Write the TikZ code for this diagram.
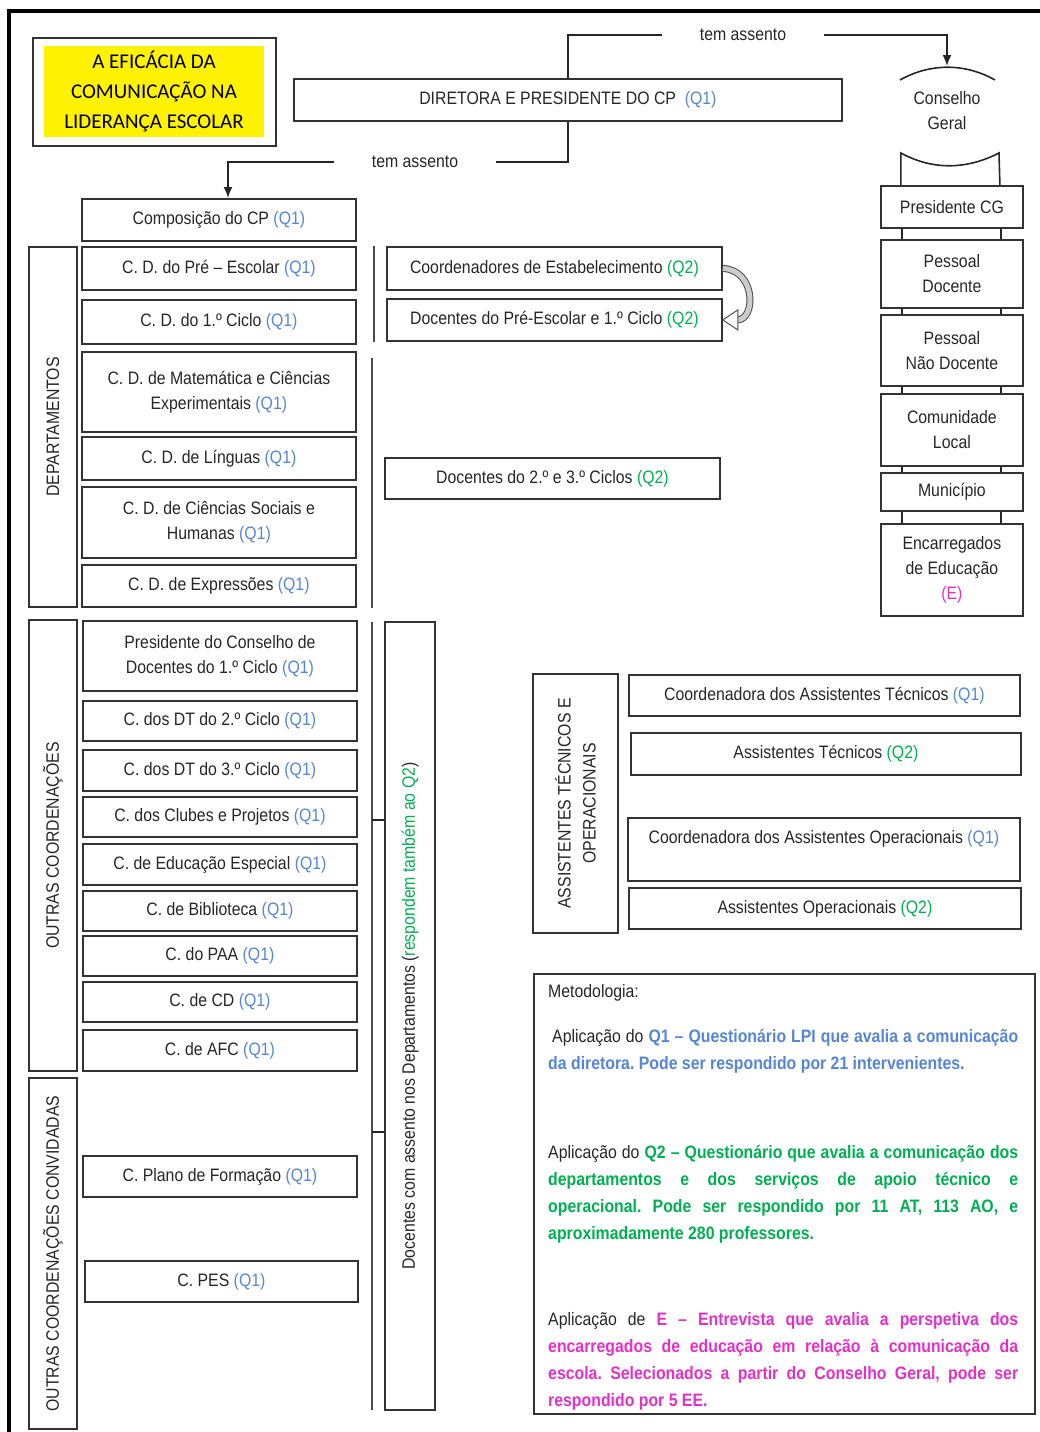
\documentclass[tikz,border=0pt]{standalone}
\usepackage{fontspec}
\setmainfont{Liberation Sans}[FakeStretch=0.88]
\newfontfamily\titlefont{Carlito}
\usepackage{xcolor}
\usetikzlibrary{arrows.meta}
\usetikzlibrary{positioning}
\definecolor{qblue}{HTML}{5585D5}
\definecolor{qgreen}{HTML}{00B050}
\definecolor{qpink}{HTML}{E530C8}
\newcommand*\qum{\textcolor{qblue}{(Q1)}}
\newcommand*\qdois{\textcolor{qgreen}{(Q2)}}
\tikzset{
    box/.style={draw=black!80, line width=1.8pt, anchor=north west, align=center, inner sep=2pt},
    lbox/.style={box, minimum width=274pt},
    rbox/.style={box, minimum width=142pt},
    abox/.style={box, minimum width=391pt},
    sidebox/.style={draw=black!80, line width=1.8pt, rotate=90, align=center, inner sep=2pt},
    vline/.style={draw=black!70, line width=2pt},
    link/.style={draw=black!85, line width=1.6pt},
    line/.style={link, -{Latex[length=11pt,width=9pt]}},
    metxt/.style={anchor=north west, inner sep=0pt, text width=470pt, align=justify,
        font=\fontsize{18}{27}\selectfont},
}

\begin{document}
\frenchspacing
\begin{tikzpicture}[x=1pt, y=-1pt,
    every node/.style={font=\fontsize{18}{25}\selectfont, text=black!85}]
	\useasboundingbox (0,0) rectangle (1040,1432);
	\draw[line width=4pt] (8,11) -- (1040,11);
	\draw[line width=3.5pt] (9,9) -- (9,1432);
	% titulo
	\node[draw=black!80, line width=1.8pt, minimum width=243pt, minimum height=108pt, anchor=north west] (tframe) at (32,37) {};
	\node[fill=yellow, minimum width=220pt, minimum height=91pt, align=center, text=black,
	    font=\titlefont\fontsize{21}{30}\selectfont] (title) at (154,91.5) {A EFICÁCIA DA\\COMUNICAÇÃO NA\\LIDERANÇA ESCOLAR};
	% direcao
	\node[box, minimum width=548pt, minimum height=42pt] (dir) at (293,78) {DIRETORA E PRESIDENTE DO CP\ \ \qum};
	\node[inner xsep=38pt] (ta1) at (743,35) {tem assento};
	\node[inner xsep=38pt] (ta2) at (415,162) {tem assento};
	\coordinate (cgin) at (947,66);
	\coordinate (cpin) at (228,198);
	\draw[link] (dir.north) |- (ta1.west);
	\path[line] (ta1.east) -| (cgin);
	\draw[link] (dir.south) |- (ta2.east);
	\path[line] (ta2.west) -| (cpin);
	% conselho geral
	\node[align=center] (cg) at (947,111) {Conselho\\Geral};
	\draw[link] (900,80) .. controls (930,63) and (965,63) .. (995,80);
	\node[rbox, minimum height=42pt] (pcg) at (880,185) {Presidente CG};
	\draw[link] ([xshift=-51pt]pcg.north) -- ++(0,-32) .. controls (932,170) and (966,170) .. (999,153) -- ([xshift=48pt]pcg.north);
	\node[rbox, minimum height=68pt] (pdoc) at (880,239) {Pessoal\\Docente};
	\node[rbox, minimum height=71pt] (pndoc) at (880,314) {Pessoal\\Não Docente};
	\node[rbox, minimum height=72pt] (cloc) at (880,393) {Comunidade\\Local};
	\node[rbox, minimum height=38pt] (mun) at (880,472) {Município};
	\node[rbox, minimum height=92pt] (enc) at (880,523) {Encarregados\\de Educação\\\textcolor{qpink}{(E)}};
	\foreach \a/\b in {pcg/pdoc,pdoc/pndoc,pndoc/cloc,cloc/mun,mun/enc}{
		\draw[link] ([xshift=-50pt]\a.south) -- ([xshift=-50pt]\b.north);
		\draw[link] ([xshift=49pt]\a.south) -- ([xshift=49pt]\b.north);
	}
	% departamentos
	\node[lbox, minimum height=42pt] (cp) at (81,198) {Composição do CP \qum};
	\node[lbox, minimum height=43pt] (dpre) at (81,246) {C. D. do Pré – Escolar \qum};
	\node[lbox, minimum height=44pt] (dciclo) at (81,299) {C. D. do 1.º Ciclo \qum};
	\node[lbox, minimum height=80pt] (dmat) at (81,351) {C. D. de Matemática e Ciências\\Experimentais \qum};
	\node[lbox, minimum height=43pt] (dling) at (81,436) {C. D. de Línguas \qum};
	\node[lbox, minimum height=71pt] (dcsh) at (81,486) {C. D. de Ciências Sociais e\\Humanas \qum};
	\node[lbox, minimum height=42pt] (dexp) at (81,564) {C. D. de Expressões \qum};
	\node[sidebox, minimum width=360pt, minimum height=48pt] (dep) at (53,427) {DEPARTAMENTOS};
	% outras coordenacoes
	\node[lbox, minimum height=70pt] (pcd) at (82,620) {Presidente do Conselho de\\Docentes do 1.º Ciclo \qum};
	\node[lbox, minimum height=40pt] (dtdois) at (82,700) {C. dos DT do 2.º Ciclo \qum};
	\node[lbox, minimum height=41pt] (dttres) at (82,749) {C. dos DT do 3.º Ciclo \qum};
	\node[lbox, minimum height=40pt] (club) at (82,796) {C. dos Clubes e Projetos \qum};
	\node[lbox, minimum height=41pt] (eesp) at (82,843) {C. de Educação Especial \qum};
	\node[lbox, minimum height=40pt] (bib) at (82,890) {C. de Biblioteca \qum};
	\node[lbox, minimum height=40pt] (paa) at (82,935) {C. do PAA \qum};
	\node[lbox, minimum height=40pt] (ccd) at (82,981) {C. de CD \qum};
	\node[lbox, minimum height=41pt] (afc) at (82,1029) {C. de AFC \qum};
	\node[sidebox, minimum width=451pt, minimum height=48pt] (outras) at (53,845.5) {OUTRAS COORDENAÇÕES};
	\node[lbox, minimum height=41pt] (pform) at (82,1155) {C. Plano de Formação \qum};
	\node[lbox, minimum width=273pt, minimum height=41pt] (pes) at (84,1260) {C. PES \qum};
	\node[sidebox, minimum width=351pt, minimum height=48pt] (conv) at (53,1253.5) {OUTRAS COORDENAÇÕES CONVIDADAS};
	% docentes
	\node[box, minimum width=335pt, minimum height=43pt] (ce) at (386,246) {Coordenadores de Estabelecimento \qdois};
	\node[box, minimum width=335pt, minimum height=42pt] (dp) at (386,298) {Docentes do Pré-Escolar e 1.º Ciclo \qdois};
	\node[box, minimum width=335pt, minimum height=41pt] (dcic) at (384,457) {Docentes do 2.º e 3.º Ciclos \qdois};
	\draw[black!70, line width=1pt, double=gray!40, double distance=5pt] (ce.east) .. controls (756,270) and (756,319) .. ([xshift=15pt]dp.east);
	\draw[black!70, line width=1pt, fill=white] (dp.east) -- ++(15,-10) -- ++(0,20) -- cycle;
	\draw[vline] ([xshift=-12pt]ce.north west) -- ([xshift=-12pt]dp.south west);
	\draw[vline] (372,358) -- (372,608);
	\draw[vline] (372,622) -- (372,1410);
	\node[sidebox, minimum width=788pt, minimum height=50pt] (dassento) at (410,1016)
	    {Docentes com assento nos Departamentos (\textcolor{qgreen}{respondem também ao Q2})};
	\draw[link] (372,820) -- (dassento.north |- 0,820);
	\draw[link] (372,1132) -- (dassento.north |- 0,1132);
	% assistentes
	\node[sidebox, minimum width=259pt, minimum height=85pt] (assist) at (575.5,803.5) {ASSISTENTES TÉCNICOS E\\OPERACIONAIS};
	\node[abox, minimum height=41pt] (cat) at (628,674) {Coordenadora dos Assistentes Técnicos \qum};
	\node[abox, minimum width=390pt, minimum height=42pt] (astec) at (630,732) {Assistentes Técnicos \qdois};
	\node[abox, minimum width=392pt, minimum height=63pt] (cao) at (627,817) {Coordenadora dos Assistentes Operacionais \qum\\\mbox{}};
	\node[abox, minimum width=392pt, minimum height=41pt] (aop) at (628,887) {Assistentes Operacionais \qdois};
	% metodologia
	\node[draw=black!80, line width=1.8pt, minimum width=501pt, minimum height=440pt, anchor=north west] (metbox) at (533,973) {};
	\node[metxt] (met) at (548,984) {Metodologia:};
	\node[metxt] (pum) at (548,1029) {\hspace*{4pt}Aplicação do \textcolor{qblue}{\bfseries Q1 – Questionário LPI que avalia a comunicação\linebreak da diretora. Pode ser respondido por 21 intervenientes.}};
	\node[metxt] (pdois) at (548,1145) {Aplicação do \textcolor{qgreen}{\bfseries Q2 – Questionário que avalia a comunicação dos\linebreak departamentos e dos serviços de apoio técnico e\linebreak operacional. Pode ser respondido por 11 AT, 113 AO, e\linebreak aproximadamente 280 professores.}};
	\node[metxt] (ptres) at (548,1312) {Aplicação de \textcolor{qpink}{\bfseries E – Entrevista que avalia a perspetiva dos\linebreak encarregados de educação em relação à comunicação da\linebreak escola. Selecionados a partir do Conselho Geral, pode ser\linebreak respondido por 5 EE.}};
\end{tikzpicture}
\end{document}
